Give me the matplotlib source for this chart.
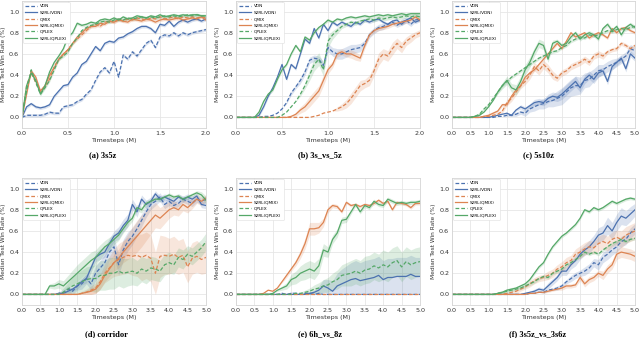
import matplotlib.pyplot as plt
import numpy as np

# sample timesteps (M)
steps_2m = np.linspace(0, 2.0, 41)
steps_5m = np.linspace(0, 5.0, 41)

labels = ['VDN', 'S2RL(VDN)', 'QMIX', 'S2RL(QMIX)', 'QPLEX', 'S2RL(QPLEX)']

# ---- (a) 3s5z
a_vdn = [0.00, 0.02, 0.02, 0.02, 0.02, 0.03, 0.05, 0.04, 0.04, 0.10, 0.11, 0.12, 0.15, 0.17, 0.22, 0.26, 0.35, 0.43, 0.47, 0.42,
         0.53, 0.38, 0.59, 0.55, 0.62, 0.58, 0.64, 0.70, 0.73, 0.66, 0.76, 0.78, 0.77, 0.80, 0.77, 0.80, 0.78, 0.80, 0.81, 0.82, 0.83]
a_s2vdn = [0.00, 0.10, 0.13, 0.10, 0.09, 0.10, 0.12, 0.20, 0.25, 0.30, 0.31, 0.38, 0.42, 0.50, 0.53, 0.60, 0.67, 0.63, 0.70, 0.72,
           0.71, 0.75, 0.76, 0.79, 0.81, 0.84, 0.86, 0.86, 0.84, 0.80, 0.88, 0.87, 0.91, 0.86, 0.90, 0.92, 0.90, 0.92, 0.93, 0.91, 0.93]
a_qmix = [0.00, 0.30, 0.42, 0.33, 0.24, 0.30, 0.36, 0.48, 0.55, 0.60, 0.64, 0.70, 0.74, 0.78, 0.82, 0.86, 0.88, 0.86, 0.90, 0.91,
          0.90, 0.93, 0.91, 0.93, 0.92, 0.94, 0.93, 0.92, 0.94, 0.93, 0.95, 0.93, 0.94, 0.95, 0.93, 0.95, 0.94, 0.95, 0.94, 0.95, 0.94]
a_s2qmix = [0.00, 0.22, 0.44, 0.38, 0.25, 0.30, 0.40, 0.47, 0.55, 0.60, 0.64, 0.70, 0.76, 0.80, 0.84, 0.86, 0.86, 0.89, 0.88, 0.91,
            0.90, 0.92, 0.91, 0.90, 0.93, 0.92, 0.91, 0.93, 0.92, 0.90, 0.92, 0.93, 0.92, 0.93, 0.94, 0.92, 0.93, 0.94, 0.93, 0.95, 0.92]
a_qplex = [0.00, 0.25, 0.45, 0.33, 0.22, 0.28, 0.35, 0.45, 0.55, 0.58, 0.62, 0.70, 0.75, 0.82, 0.85, 0.87, 0.88, 0.90, 0.91, 0.90,
           0.92, 0.93, 0.92, 0.94, 0.93, 0.94, 0.95, 0.94, 0.95, 0.94, 0.95, 0.96, 0.95, 0.96, 0.95, 0.96, 0.97, 0.96, 0.97, 0.96, 0.96]
a_s2qplex = [0.00, 0.30, 0.42, 0.35, 0.22, 0.30, 0.43, 0.52, 0.58, 0.65, 0.76, 0.80, 0.89, 0.87, 0.88, 0.90, 0.89, 0.92, 0.93, 0.92,
             0.94, 0.92, 0.95, 0.93, 0.94, 0.96, 0.95, 0.94, 0.96, 0.95, 0.97, 0.95, 0.96, 0.97, 0.96, 0.97, 0.96, 0.97, 0.97, 0.96, 0.96]

# ---- (b) 3s_vs_5z
b_vdn = [0.00, 0.00, 0.00, 0.00, 0.00, 0.00, 0.01, 0.01, 0.02, 0.04, 0.08, 0.14, 0.23, 0.29, 0.35, 0.43, 0.54, 0.56, 0.55, 0.49,
         0.66, 0.62, 0.60, 0.60, 0.62, 0.64, 0.65, 0.66, 0.70, 0.78, 0.82, 0.85, 0.86, 0.88, 0.90, 0.87, 0.90, 0.92, 0.88, 0.92, 0.93]
b_s2vdn = [0.00, 0.00, 0.00, 0.00, 0.00, 0.02, 0.10, 0.20, 0.28, 0.38, 0.50, 0.36, 0.50, 0.46, 0.60, 0.74, 0.70, 0.84, 0.75, 0.88,
           0.82, 0.90, 0.87, 0.90, 0.88, 0.86, 0.90, 0.88, 0.92, 0.90, 0.92, 0.93, 0.90, 0.88, 0.91, 0.92, 0.88, 0.92, 0.94, 0.90, 0.92]
b_qmix = [0.00, 0.00, 0.00, 0.00, 0.00, 0.00, 0.00, 0.00, 0.00, 0.00, 0.00, 0.00, 0.00, 0.00, 0.00, 0.00, 0.00, 0.01, 0.02, 0.04,
          0.05, 0.06, 0.08, 0.10, 0.13, 0.18, 0.24, 0.30, 0.32, 0.35, 0.44, 0.55, 0.60, 0.58, 0.65, 0.70, 0.66, 0.72, 0.75, 0.78, 0.80]
b_s2qmix = [0.00, 0.00, 0.00, 0.00, 0.00, 0.00, 0.00, 0.00, 0.00, 0.00, 0.00, 0.00, 0.01, 0.03, 0.07, 0.10, 0.15, 0.20, 0.25, 0.35,
            0.45, 0.50, 0.60, 0.62, 0.60, 0.60, 0.58, 0.56, 0.68, 0.78, 0.82, 0.84, 0.85, 0.86, 0.88, 0.89, 0.90, 0.91, 0.92, 0.95, 0.92]
b_qplex = [0.00, 0.00, 0.00, 0.00, 0.00, 0.00, 0.00, 0.00, 0.00, 0.00, 0.02, 0.05, 0.10, 0.15, 0.22, 0.30, 0.40, 0.50, 0.55, 0.45,
           0.72, 0.78, 0.82, 0.86, 0.88, 0.90, 0.89, 0.91, 0.92, 0.93, 0.92, 0.94, 0.93, 0.94, 0.95, 0.94, 0.95, 0.96, 0.95, 0.96, 0.95]
b_s2qplex = [0.00, 0.00, 0.00, 0.00, 0.00, 0.05, 0.15, 0.22, 0.26, 0.36, 0.45, 0.50, 0.60, 0.68, 0.62, 0.76, 0.73, 0.80, 0.85, 0.88,
             0.92, 0.90, 0.93, 0.92, 0.94, 0.95, 0.94, 0.95, 0.96, 0.95, 0.96, 0.97, 0.96, 0.97, 0.96, 0.97, 0.98, 0.97, 0.98, 0.98, 0.98]

# ---- (c) 5s10z
c_vdn = [0.00, 0.00, 0.00, 0.00, 0.00, 0.00, 0.00, 0.00, 0.00, 0.00, 0.01, 0.01, 0.02, 0.02, 0.03, 0.05, 0.04, 0.08, 0.10, 0.12,
         0.13, 0.15, 0.16, 0.18, 0.20, 0.24, 0.28, 0.30, 0.30, 0.35, 0.36, 0.40, 0.44, 0.45, 0.48, 0.50, 0.52, 0.55, 0.58, 0.65, 0.63]
c_s2vdn = [0.00, 0.00, 0.00, 0.00, 0.00, 0.00, 0.00, 0.00, 0.00, 0.01, 0.02, 0.03, 0.04, 0.02, 0.07, 0.10, 0.08, 0.11, 0.14, 0.15,
           0.14, 0.18, 0.20, 0.19, 0.22, 0.26, 0.30, 0.34, 0.28, 0.36, 0.40, 0.36, 0.42, 0.44, 0.34, 0.48, 0.52, 0.56, 0.46, 0.60, 0.56]
c_qmix = [0.00, 0.00, 0.00, 0.00, 0.00, 0.00, 0.00, 0.01, 0.01, 0.02, 0.03, 0.06, 0.14, 0.18, 0.24, 0.30, 0.34, 0.40, 0.48, 0.44,
          0.50, 0.46, 0.40, 0.37, 0.42, 0.44, 0.48, 0.50, 0.52, 0.55, 0.52, 0.58, 0.60, 0.58, 0.62, 0.64, 0.65, 0.70, 0.68, 0.65, 0.68]
c_s2qmix = [0.00, 0.00, 0.00, 0.00, 0.00, 0.00, 0.00, 0.01, 0.02, 0.04, 0.06, 0.12, 0.12, 0.20, 0.26, 0.30, 0.38, 0.42, 0.45, 0.50,
            0.55, 0.60, 0.65, 0.70, 0.65, 0.72, 0.80, 0.76, 0.78, 0.80, 0.75, 0.78, 0.80, 0.78, 0.75, 0.84, 0.80, 0.84, 0.85, 0.82, 0.80]
c_qplex = [0.00, 0.00, 0.00, 0.00, 0.00, 0.01, 0.03, 0.08, 0.12, 0.18, 0.24, 0.30, 0.34, 0.38, 0.41, 0.44, 0.47, 0.50, 0.53, 0.56,
           0.58, 0.60, 0.62, 0.63, 0.66, 0.68, 0.72, 0.74, 0.76, 0.75, 0.78, 0.77, 0.78, 0.80, 0.82, 0.81, 0.83, 0.84, 0.83, 0.85, 0.86]
c_s2qplex = [0.00, 0.00, 0.00, 0.00, 0.00, 0.01, 0.02, 0.05, 0.10, 0.16, 0.24, 0.30, 0.35, 0.28, 0.26, 0.34, 0.45, 0.52, 0.62, 0.70,
             0.68, 0.55, 0.70, 0.72, 0.68, 0.70, 0.76, 0.80, 0.74, 0.78, 0.80, 0.78, 0.74, 0.84, 0.88, 0.82, 0.86, 0.78, 0.85, 0.88, 0.85]

# ---- (d) corridor
d_vdn = [0.00, 0.00, 0.00, 0.00, 0.00, 0.00, 0.00, 0.00, 0.01, 0.02, 0.05, 0.03, 0.08, 0.10, 0.15, 0.10, 0.20, 0.25, 0.30, 0.40,
         0.45, 0.28, 0.42, 0.50, 0.55, 0.62, 0.70, 0.78, 0.85, 0.88, 0.92, 0.85, 0.88, 0.84, 0.86, 0.90, 0.88, 0.86, 0.90, 0.88, 0.90]
d_s2vdn = [0.00, 0.00, 0.00, 0.00, 0.00, 0.00, 0.00, 0.00, 0.01, 0.01, 0.03, 0.05, 0.08, 0.12, 0.15, 0.25, 0.35, 0.38, 0.40, 0.48,
           0.55, 0.58, 0.65, 0.70, 0.85, 0.78, 0.90, 0.85, 0.88, 0.95, 0.90, 0.92, 0.90, 0.88, 0.92, 0.90, 0.92, 0.90, 0.93, 0.85, 0.84]
d_qmix = [0.00, 0.00, 0.00, 0.00, 0.00, 0.00, 0.00, 0.00, 0.00, 0.00, 0.00, 0.00, 0.00, 0.01, 0.02, 0.04, 0.06, 0.12, 0.20, 0.25,
          0.30, 0.33, 0.35, 0.37, 0.36, 0.37, 0.35, 0.37, 0.34, 0.20, 0.36, 0.37, 0.36, 0.38, 0.35, 0.37, 0.26, 0.34, 0.36, 0.33, 0.35]
d_s2qmix = [0.00, 0.00, 0.00, 0.00, 0.00, 0.00, 0.00, 0.00, 0.00, 0.00, 0.00, 0.00, 0.00, 0.01, 0.02, 0.03, 0.05, 0.10, 0.18, 0.24,
            0.30, 0.34, 0.40, 0.45, 0.50, 0.55, 0.60, 0.65, 0.70, 0.75, 0.72, 0.76, 0.80, 0.82, 0.80, 0.85, 0.82, 0.86, 0.90, 0.88, 0.91]
d_qplex = [0.00, 0.00, 0.00, 0.00, 0.00, 0.00, 0.00, 0.00, 0.00, 0.02, 0.05, 0.08, 0.10, 0.12, 0.14, 0.15, 0.15, 0.18, 0.18, 0.20,
           0.20, 0.22, 0.20, 0.21, 0.22, 0.20, 0.24, 0.22, 0.25, 0.24, 0.22, 0.28, 0.30, 0.28, 0.35, 0.33, 0.38, 0.36, 0.40, 0.44, 0.50]
d_s2qplex = [0.00, 0.00, 0.00, 0.00, 0.00, 0.00, 0.08, 0.08, 0.10, 0.08, 0.12, 0.16, 0.20, 0.24, 0.28, 0.32, 0.35, 0.40, 0.45, 0.48,
             0.52, 0.56, 0.62, 0.68, 0.72, 0.82, 0.80, 0.86, 0.88, 0.90, 0.90, 0.92, 0.94, 0.92, 0.93, 0.90, 0.92, 0.94, 0.96, 0.94, 0.89]

# ---- (e) 6h_vs_8z
e_vdn = [0.00, 0.00, 0.00, 0.00, 0.00, 0.00, 0.00, 0.00, 0.00, 0.00, 0.01, 0.00, 0.01, 0.01, 0.00, 0.01, 0.01, 0.00, 0.01, 0.00,
         0.00, 0.00, 0.00, 0.00, 0.00, 0.00, 0.00, 0.00, 0.00, 0.00, 0.00, 0.00, 0.00, 0.00, 0.00, 0.00, 0.00, 0.00, 0.00, 0.00, 0.00]
e_s2vdn = [0.00, 0.00, 0.00, 0.00, 0.00, 0.00, 0.00, 0.00, 0.00, 0.00, 0.00, 0.00, 0.00, 0.00, 0.00, 0.00, 0.01, 0.02, 0.04, 0.08,
           0.06, 0.03, 0.08, 0.10, 0.12, 0.14, 0.15, 0.13, 0.14, 0.15, 0.16, 0.18, 0.14, 0.16, 0.16, 0.17, 0.17, 0.17, 0.19, 0.17, 0.17]
e_qmix = [0.00, 0.00, 0.00, 0.00, 0.00, 0.00, 0.00, 0.00, 0.00, 0.00, 0.00, 0.00, 0.00, 0.00, 0.00, 0.00, 0.00, 0.00, 0.00, 0.00,
          0.00, 0.00, 0.00, 0.00, 0.00, 0.00, 0.00, 0.00, 0.00, 0.00, 0.00, 0.00, 0.00, 0.00, 0.00, 0.00, 0.00, 0.00, 0.00, 0.00, 0.00]
e_s2qmix = [0.00, 0.00, 0.00, 0.00, 0.00, 0.00, 0.01, 0.04, 0.03, 0.06, 0.12, 0.18, 0.24, 0.30, 0.38, 0.48, 0.62, 0.62, 0.63, 0.68,
            0.80, 0.84, 0.83, 0.78, 0.87, 0.84, 0.85, 0.83, 0.85, 0.84, 0.86, 0.89, 0.86, 0.88, 0.80, 0.87, 0.86, 0.85, 0.82, 0.86, 0.86]
e_qplex = [0.00, 0.00, 0.00, 0.00, 0.00, 0.00, 0.00, 0.00, 0.00, 0.00, 0.00, 0.00, 0.00, 0.01, 0.01, 0.02, 0.03, 0.05, 0.06, 0.08,
           0.09, 0.12, 0.14, 0.18, 0.19, 0.20, 0.22, 0.20, 0.23, 0.24, 0.27, 0.25, 0.28, 0.26, 0.30, 0.32, 0.26, 0.31, 0.28, 0.30, 0.31]
e_s2qplex = [0.00, 0.00, 0.00, 0.00, 0.00, 0.00, 0.00, 0.00, 0.01, 0.04, 0.06, 0.08, 0.14, 0.16, 0.20, 0.22, 0.24, 0.22, 0.27, 0.42,
             0.40, 0.52, 0.58, 0.70, 0.71, 0.78, 0.85, 0.78, 0.84, 0.82, 0.88, 0.85, 0.84, 0.90, 0.88, 0.86, 0.87, 0.86, 0.87, 0.87, 0.88]

# ---- (f) 3s5z_vs_3s6z
f_vdn = [0.00, 0.00, 0.00, 0.00, 0.00, 0.00, 0.00, 0.00, 0.00, 0.00, 0.00, 0.00, 0.00, 0.00, 0.00, 0.00, 0.00, 0.01, 0.01, 0.02,
         0.02, 0.04, 0.05, 0.06, 0.08, 0.12, 0.15, 0.18, 0.20, 0.22, 0.25, 0.30, 0.28, 0.35, 0.38, 0.42, 0.45, 0.50, 0.52, 0.58, 0.62]
f_s2vdn = [0.00, 0.00, 0.00, 0.00, 0.00, 0.00, 0.00, 0.00, 0.00, 0.00, 0.00, 0.00, 0.00, 0.00, 0.00, 0.00, 0.01, 0.02, 0.03, 0.05,
           0.04, 0.08, 0.12, 0.16, 0.22, 0.22, 0.28, 0.32, 0.38, 0.42, 0.45, 0.50, 0.56, 0.58, 0.65, 0.60, 0.68, 0.74, 0.72, 0.76, 0.80]
f_qmix = [0.00, 0.00, 0.00, 0.00, 0.00, 0.00, 0.00, 0.00, 0.00, 0.00, 0.00, 0.00, 0.01, 0.02, 0.03, 0.05, 0.07, 0.10, 0.13, 0.15,
          0.16, 0.18, 0.20, 0.24, 0.26, 0.30, 0.32, 0.38, 0.40, 0.43, 0.45, 0.44, 0.48, 0.50, 0.48, 0.52, 0.54, 0.52, 0.56, 0.58, 0.60]
f_s2qmix = [0.00, 0.00, 0.00, 0.00, 0.00, 0.00, 0.00, 0.00, 0.00, 0.00, 0.00, 0.00, 0.00, 0.00, 0.00, 0.00, 0.00, 0.01, 0.01, 0.02,
            0.02, 0.03, 0.04, 0.05, 0.06, 0.08, 0.08, 0.09, 0.16, 0.10, 0.14, 0.16, 0.20, 0.18, 0.24, 0.28, 0.38, 0.40, 0.39, 0.38, 0.36]
f_qplex = [0.00, 0.00, 0.00, 0.00, 0.00, 0.00, 0.00, 0.00, 0.00, 0.00, 0.01, 0.02, 0.03, 0.04, 0.05, 0.06, 0.08, 0.10, 0.12, 0.15,
           0.17, 0.16, 0.20, 0.22, 0.24, 0.28, 0.30, 0.33, 0.36, 0.40, 0.38, 0.40, 0.38, 0.42, 0.45, 0.48, 0.50, 0.52, 0.50, 0.52, 0.53]
f_s2qplex = [0.00, 0.00, 0.00, 0.00, 0.00, 0.00, 0.00, 0.00, 0.00, 0.00, 0.01, 0.02, 0.04, 0.05, 0.06, 0.08, 0.10, 0.14, 0.20, 0.26,
             0.30, 0.38, 0.45, 0.50, 0.55, 0.58, 0.62, 0.66, 0.72, 0.80, 0.78, 0.82, 0.80, 0.82, 0.85, 0.88, 0.86, 0.88, 0.90, 0.91, 0.90]

# shaded spread (half width) for runs with a visible band; others get a thin one
b_vdn_sd = [0.00] * 11 + [0.01, 0.02, 0.02, 0.03, 0.03, 0.03, 0.03, 0.03, 0.04, 0.04, 0.04, 0.05, 0.05, 0.05, 0.05, 0.04,
                          0.04, 0.03, 0.03, 0.03, 0.03, 0.03, 0.02, 0.02, 0.02, 0.03, 0.03, 0.02, 0.02, 0.02]
b_qmix_sd = [0.00] * 22 + [0.02, 0.03, 0.04, 0.05, 0.05, 0.05, 0.04, 0.05, 0.05, 0.06, 0.05, 0.05, 0.06, 0.05, 0.05, 0.04,
                           0.04, 0.03, 0.03]
b_s2qmix_sd = [0.00] * 13 + [0.02, 0.03, 0.04, 0.05, 0.05, 0.05, 0.05, 0.04, 0.03, 0.03, 0.03, 0.03, 0.04, 0.04, 0.03, 0.03,
                             0.02, 0.02, 0.02, 0.02, 0.02, 0.02, 0.02, 0.02, 0.02, 0.02, 0.02, 0.02]
b_qplex_sd = [0.00] * 14 + [0.02, 0.03, 0.05, 0.06, 0.06, 0.06, 0.06, 0.04, 0.03, 0.02, 0.02, 0.02, 0.02, 0.02, 0.02, 0.02,
                            0.02, 0.02, 0.02, 0.02, 0.02, 0.02, 0.02, 0.02, 0.02, 0.02, 0.02]
c_vdn_sd = [0.00] * 12 + [0.01, 0.01, 0.02, 0.02, 0.03, 0.03, 0.04, 0.04, 0.05, 0.05, 0.06, 0.07, 0.08, 0.08, 0.08, 0.09,
                          0.08, 0.07, 0.07, 0.06, 0.06, 0.05, 0.05, 0.05, 0.04, 0.04, 0.04, 0.04, 0.03]
c_s2vdn_sd = [0.00] * 12 + [0.01, 0.01, 0.01, 0.02, 0.02, 0.02, 0.03, 0.03, 0.03, 0.04, 0.04, 0.04, 0.05, 0.05, 0.05, 0.05,
                            0.04, 0.04, 0.04, 0.04, 0.04, 0.03, 0.03, 0.03, 0.03, 0.03, 0.03, 0.03, 0.03]
c_qmix_sd = [0.00] * 10 + [0.01, 0.02, 0.03, 0.03, 0.03, 0.03, 0.03, 0.04, 0.04, 0.04, 0.04, 0.04, 0.04, 0.03, 0.03, 0.03,
                           0.03, 0.03, 0.03, 0.03, 0.03, 0.03, 0.03, 0.03, 0.02, 0.02, 0.02, 0.02, 0.02, 0.02, 0.02]
c_s2qplex_sd = [0.00] * 10 + [0.02, 0.03, 0.04, 0.04, 0.05, 0.05, 0.05, 0.05, 0.04, 0.04, 0.04, 0.03, 0.03, 0.02, 0.02,
                              0.02, 0.02, 0.02, 0.02, 0.02, 0.02, 0.02, 0.02, 0.02, 0.02, 0.02, 0.02, 0.02, 0.02, 0.02, 0.02]
d_vdn_sd = [0.00] * 8 + [0.01, 0.02, 0.03, 0.03, 0.04, 0.05, 0.05, 0.06, 0.07, 0.07, 0.08, 0.08, 0.09, 0.10, 0.10, 0.09,
                         0.08, 0.07, 0.06, 0.05, 0.05, 0.04, 0.04, 0.04, 0.04, 0.03, 0.03, 0.03, 0.03, 0.03, 0.03, 0.03, 0.03]
d_s2vdn_sd = [0.00] * 8 + [0.01, 0.01, 0.02, 0.02, 0.03, 0.03, 0.04, 0.04, 0.04, 0.05, 0.05, 0.05, 0.05, 0.06, 0.06, 0.06,
                           0.05, 0.05, 0.04, 0.04, 0.04, 0.03, 0.03, 0.03, 0.03, 0.03, 0.03, 0.03, 0.03, 0.03, 0.03, 0.03, 0.03]
d_qmix_sd = [0.00] * 12 + [0.01, 0.02, 0.03, 0.04, 0.05, 0.07, 0.09, 0.11, 0.13, 0.15, 0.16, 0.17, 0.18, 0.20, 0.22, 0.22,
                           0.22, 0.20, 0.20, 0.18, 0.17, 0.17, 0.16, 0.16, 0.15, 0.15, 0.15, 0.14, 0.15]
d_s2qmix_sd = [0.00] * 12 + [0.01, 0.01, 0.02, 0.03, 0.04, 0.05, 0.06, 0.07, 0.08, 0.09, 0.10, 0.12, 0.14, 0.15, 0.15,
                             0.14, 0.13, 0.12, 0.10, 0.09, 0.08, 0.07, 0.06, 0.06, 0.05, 0.05, 0.04, 0.04, 0.03]
d_qplex_sd = [0.00] * 8 + [0.02, 0.04, 0.06, 0.08, 0.10, 0.11, 0.12, 0.12, 0.13, 0.14, 0.14, 0.15, 0.15, 0.14, 0.14, 0.13,
                           0.13, 0.12, 0.12, 0.12, 0.11, 0.11, 0.10, 0.10, 0.10, 0.09, 0.09, 0.09, 0.08, 0.08, 0.08, 0.08, 0.08]
d_s2qplex_sd = [0.00] * 6 + [0.02, 0.03, 0.04, 0.05, 0.06, 0.07, 0.08, 0.08, 0.08, 0.08, 0.07, 0.07, 0.06, 0.06, 0.05,
                             0.05, 0.04, 0.04, 0.03, 0.03, 0.03, 0.03, 0.02, 0.02, 0.02, 0.02, 0.02, 0.02, 0.02, 0.02,
                             0.02, 0.02, 0.02, 0.03, 0.04]
e_s2vdn_sd = [0.00] * 16 + [0.01, 0.02, 0.04, 0.06, 0.08, 0.10, 0.12, 0.14, 0.15, 0.16, 0.17, 0.17, 0.18, 0.18, 0.18,
                            0.18, 0.18, 0.18, 0.18, 0.18, 0.18, 0.18, 0.18, 0.18, 0.18]
e_s2qmix_sd = [0.00] * 10 + [0.01, 0.02, 0.02, 0.03, 0.04, 0.05, 0.06, 0.06, 0.05, 0.04, 0.03, 0.02, 0.02, 0.015, 0.015,
                             0.015, 0.015, 0.015, 0.015, 0.015, 0.015, 0.015, 0.015, 0.015, 0.015, 0.015, 0.015, 0.015,
                             0.015, 0.015, 0.015]
e_qplex_sd = [0.00] * 14 + [0.01, 0.02, 0.03, 0.04, 0.05, 0.06, 0.07, 0.08, 0.09, 0.10, 0.11, 0.12, 0.12, 0.12, 0.13,
                            0.13, 0.13, 0.13, 0.14, 0.14, 0.14, 0.14, 0.14, 0.14, 0.14, 0.14, 0.14]
e_s2qplex_sd = [0.00] * 9 + [0.01, 0.02, 0.03, 0.05, 0.06, 0.07, 0.08, 0.08, 0.08, 0.07, 0.06, 0.05, 0.04, 0.04, 0.03,
                             0.03, 0.02, 0.02, 0.02, 0.02, 0.02, 0.02, 0.02, 0.02, 0.02, 0.02, 0.02, 0.02, 0.02, 0.02,
                             0.02, 0.02]
f_vdn_sd = [0.00] * 20 + [0.01, 0.01, 0.01, 0.02, 0.02, 0.02, 0.03, 0.03, 0.03, 0.04, 0.04, 0.04, 0.05, 0.05, 0.05, 0.05,
                          0.05, 0.05, 0.05, 0.05, 0.05]
f_s2vdn_sd = [0.00] * 16 + [0.01, 0.01, 0.02, 0.02, 0.02, 0.03, 0.03, 0.03, 0.04, 0.04, 0.04, 0.05, 0.05, 0.05, 0.06,
                            0.06, 0.07, 0.07, 0.08, 0.08, 0.08, 0.08, 0.07, 0.07, 0.06]
f_qmix_sd = [0.00] * 12 + [0.01, 0.01, 0.02, 0.02, 0.02, 0.03, 0.03, 0.03, 0.03, 0.04, 0.04, 0.04, 0.05, 0.05, 0.05, 0.05,
                           0.06, 0.06, 0.06, 0.06, 0.07, 0.07, 0.07, 0.07, 0.07, 0.08, 0.08, 0.08, 0.08]
f_s2qmix_sd = [0.00] * 20 + [0.01, 0.01, 0.01, 0.01, 0.02, 0.02, 0.02, 0.02, 0.03, 0.03, 0.03, 0.03, 0.03, 0.04, 0.04,
                             0.04, 0.05, 0.05, 0.05, 0.05, 0.05]

colors = ['#4c72b0', '#4c72b0', '#dd8452', '#dd8452', '#55a868', '#55a868']
styles = ['--', '-', '--', '-', '--', '-']

panels = [
    ('(a) 3s5z', steps_2m, [a_vdn, a_s2vdn, a_qmix, a_s2qmix, a_qplex, a_s2qplex],
     [None, None, None, None, None, None]),
    ('(b) 3s_vs_5z', steps_2m, [b_vdn, b_s2vdn, b_qmix, b_s2qmix, b_qplex, b_s2qplex],
     [b_vdn_sd, None, b_qmix_sd, b_s2qmix_sd, b_qplex_sd, None]),
    ('(c) 5s10z', steps_5m, [c_vdn, c_s2vdn, c_qmix, c_s2qmix, c_qplex, c_s2qplex],
     [c_vdn_sd, c_s2vdn_sd, c_qmix_sd, None, None, c_s2qplex_sd]),
    ('(d) corridor', steps_5m, [d_vdn, d_s2vdn, d_qmix, d_s2qmix, d_qplex, d_s2qplex],
     [d_vdn_sd, d_s2vdn_sd, d_qmix_sd, d_s2qmix_sd, d_qplex_sd, d_s2qplex_sd]),
    ('(e) 6h_vs_8z', steps_5m, [e_vdn, e_s2vdn, e_qmix, e_s2qmix, e_qplex, e_s2qplex],
     [None, e_s2vdn_sd, None, e_s2qmix_sd, e_qplex_sd, e_s2qplex_sd]),
    ('(f) 3s5z_vs_3s6z', steps_5m, [f_vdn, f_s2vdn, f_qmix, f_s2qmix, f_qplex, f_s2qplex],
     [f_vdn_sd, f_s2vdn_sd, f_qmix_sd, f_s2qmix_sd, None, None]),
]

# axes boxes in pixels (left, top, right, bottom) on a 640x338 canvas
boxes = [(22, 1, 206, 128), (236, 1, 420, 128), (452, 1, 635, 128),
         (22, 178, 206, 305), (236, 178, 420, 305), (452, 178, 635, 305)]
caption_x = [103, 320, 538, 106, 320, 538]

W, H = 640, 338
fig = plt.figure(figsize=(6.4, 3.38), dpi=100)

for k, (title, steps, curves, spreads) in enumerate(panels):
    l, t, r, b = boxes[k]
    ax = fig.add_axes([l / W, 1 - b / H, (r - l) / W, (b - t) / H])
    for vals, sd, name, c, ls in zip(curves, spreads, labels, colors, styles):
        y = np.array(vals)
        s = np.array(sd) if sd is not None else np.where(y > 0, 0.015, 0.0)
        ax.fill_between(steps, np.clip(y - s, 0, None), y + s, color=c, alpha=0.2, lw=0)
        ax.plot(steps, y, color=c, linestyle=ls, lw=0.9, label=name,
                dashes=(3, 1.6) if ls == '--' else (None, None))
    xmax = steps[-1]
    ax.set_xlim(0, xmax)
    ax.set_ylim(-0.1, 1.1)
    ax.set_xticks(np.arange(0, xmax + 0.01, 0.5))
    ax.set_yticks([0.0, 0.2, 0.4, 0.6, 0.8, 1.0])
    ax.xaxis.set_major_formatter(plt.FormatStrFormatter('%.1f'))
    ax.grid(color='#e6e6e6', lw=0.6)
    ax.set_axisbelow(True)
    for sp in ax.spines.values():
        sp.set_color('#d5d5d5')
        sp.set_linewidth(0.6)
    ax.tick_params(length=0, labelsize=4.6, labelcolor='#333333', pad=2)
    ax.set_xlabel('Timesteps (M)', fontsize=4.6, color='#333333', labelpad=1.5)
    ax.set_ylabel('Median Test Win Rate (%)', fontsize=4.2, color='#333333', labelpad=2)
    ax.legend(loc='upper left', fontsize=3.1, frameon=True, edgecolor='#dddddd', framealpha=1,
              handlelength=2.6, labelspacing=0.55, borderpad=0.5, borderaxespad=0.3, fancybox=True)
    ax.get_legend().get_frame().set_linewidth(0.4)

    cy = 155 if k < 3 else 334
    fig.text(caption_x[k] / W, 1 - cy / H, title, ha='center', va='center',
             fontsize=6, fontweight='bold', family='Liberation Serif')

fig.savefig('out.png', dpi=100)
